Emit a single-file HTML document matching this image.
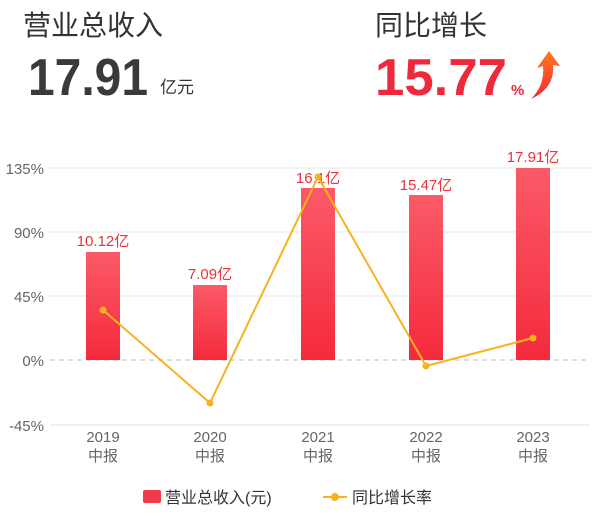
<!DOCTYPE html>
<html><head><meta charset="utf-8"><style>
html,body{margin:0;padding:0;background:#fff;}
svg{display:block;}
text{font-family:"Liberation Sans","Noto Sans CJK SC",sans-serif;}
</style></head><body>
<svg width="600" height="519" viewBox="0 0 600 519" xmlns="http://www.w3.org/2000/svg">
<defs>
<linearGradient id="bg" x1="0" y1="0" x2="0" y2="1">
<stop offset="0" stop-color="#fb5a68"/><stop offset="1" stop-color="#f42a3c"/>
</linearGradient>
<linearGradient id="ar" x1="0" y1="0" x2="0" y2="1">
<stop offset="0" stop-color="#ff7a1a"/><stop offset="1" stop-color="#f0283c"/>
</linearGradient>
</defs>
<text x="23" y="35" font-size="28" fill="#333">营业总收入</text>
<text x="28" y="95" font-size="52" font-weight="bold" fill="#3a3a3a" textLength="120" lengthAdjust="spacingAndGlyphs">17.91</text>
<text x="160" y="93" font-size="17" fill="#333">亿元</text>
<text x="375" y="35" font-size="28" fill="#333">同比增长</text>
<text x="375" y="95" font-size="52" font-weight="bold" fill="#f0283c" textLength="132" lengthAdjust="spacingAndGlyphs">15.77</text>
<text x="511" y="95" font-size="15" font-weight="bold" fill="#f0283c">%</text>
<path d="M531 99 Q545 85 543 66 L537 68 L549 51 L560 66 L553 65 Q555 88 531 99 Z" fill="url(#ar)"/>
<g stroke="#e6e6e6" stroke-width="1">
<line x1="50" y1="168" x2="590" y2="168"/><line x1="50" y1="232" x2="590" y2="232"/>
<line x1="50" y1="296" x2="590" y2="296"/><line x1="50" y1="425" x2="590" y2="425"/>
</g>
<line x1="50" y1="360" x2="590" y2="360" stroke="#bbb" stroke-dasharray="5,4"/>
<g font-size="15" fill="#666" text-anchor="end">
<text x="44" y="174">135%</text><text x="44" y="238">90%</text><text x="44" y="302">45%</text>
<text x="44" y="366">0%</text><text x="44" y="431">-45%</text>
</g>
<g fill="url(#bg)">
<rect x="86" y="252" width="34" height="108"/>
<rect x="193" y="285" width="34" height="75"/>
<rect x="301" y="188" width="34" height="172"/>
<rect x="409" y="195" width="34" height="165"/>
<rect x="516" y="168" width="34" height="192"/>
</g>
<g font-size="15" fill="#e8333f" text-anchor="middle">
<text x="103" y="246">10.12亿</text><text x="210" y="279">7.09亿</text>
<text x="318" y="183">16.1亿</text><text x="426" y="190">15.47亿</text><text x="533" y="162">17.91亿</text>
</g>
<polyline points="103,310 210,403 318,177 426,366 533,338" fill="none" stroke="#f7b21c" stroke-width="2"/>
<g fill="#f7b21c">
<circle cx="103" cy="310" r="3.5"/><circle cx="210" cy="403" r="3.5"/><circle cx="318" cy="177" r="3.5"/>
<circle cx="426" cy="366" r="3.5"/><circle cx="533" cy="338" r="3.5"/>
</g>
<g font-size="15" fill="#666" text-anchor="middle">
<text x="103" y="442">2019</text><text x="103" y="461">中报</text>
<text x="210" y="442">2020</text><text x="210" y="461">中报</text>
<text x="318" y="442">2021</text><text x="318" y="461">中报</text>
<text x="426" y="442">2022</text><text x="426" y="461">中报</text>
<text x="533" y="442">2023</text><text x="533" y="461">中报</text>
</g>
<rect x="143" y="490" width="18" height="13" rx="2" fill="#f23a4a"/>
<text x="165" y="503" font-size="16" fill="#333">营业总收入(元)</text>
<line x1="323" y1="497" x2="347" y2="497" stroke="#f7b21c" stroke-width="2"/>
<circle cx="335" cy="497" r="4" fill="#f7b21c"/>
<text x="352" y="503" font-size="16" fill="#333">同比增长率</text>
</svg>
</body></html>
